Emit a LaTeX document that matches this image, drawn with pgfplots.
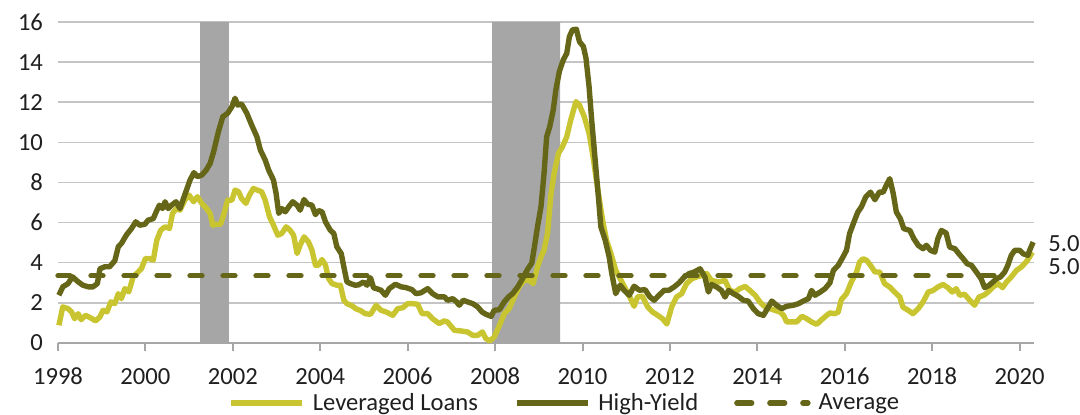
\documentclass[border=0pt]{standalone}
\usepackage{fontspec}
\setmainfont{Carlito}
\usepackage{pgfplots}
\pgfplotsset{compat=1.18}
\definecolor{llc}{HTML}{C9C530}
\definecolor{hyc}{HTML}{666619}
\definecolor{bandc}{HTML}{A6A6A6}
\definecolor{gridc}{HTML}{C4C4C4}
\definecolor{axc}{HTML}{A6A6A6}
\definecolor{txt}{HTML}{1F1F1F}
\newcommand\chartfont{\fontsize{12.3pt}{14pt}\selectfont}
\pgfplotsset{avglegend/.style={legend image code/.code={\draw[##1] (1.4pt,0pt) -- (24pt,0pt); \path (0pt,0pt) -- (35.5pt,0pt);}}}
\begin{document}
\begin{tikzpicture}
\useasboundingbox (-29pt,-36pt) rectangle (511pt,171.5pt);
\begin{axis}[
  at={(0,0)}, anchor=south west,
  scale only axis, width=488pt, height=160.5pt,
  clip=false,
  xmin=1998, xmax=2020.33, ymin=0, ymax=16,
  xtick={1998,2000,...,2020}, ytick={0,2,...,16},
  axis x line*=bottom, axis y line*=left,
  x axis line style={draw=axc, line width=1pt, -},
  y axis line style={draw=none},
  ytick style={draw=none},
  xtick style={draw=axc, line width=1pt},
  tick align=outside, major tick length=4pt,
  ymajorgrids, grid style={draw=gridc, line width=0.75pt},
  ticklabel style={font=\chartfont, text=txt},
  xticklabel style={yshift=-5pt},
  /pgf/number format/1000 sep={}, /pgf/number format/assume math mode=true,
  legend style={at={(0.168,-0.187)}, anchor=west, draw=none, fill=none,
    legend columns=-1, font=\chartfont, text=txt,
    /tikz/every odd column/.append style={column sep=2pt},
    /tikz/every even column/.append style={column sep=16pt}},
  legend image code/.code={\draw[#1] (0pt,0pt) -- (35.5pt,0pt);},
]
\addplot[fill=bandc, draw=none, forget plot] coordinates {(2001.25,0) (2001.25,16) (2001.91,16) (2001.91,0)} \closedcycle;
\addplot[fill=bandc, draw=none, forget plot] coordinates {(2007.93,0) (2007.93,16) (2009.49,16) (2009.49,0)} \closedcycle;

\addplot[llc, line width=2.7pt, line join=round] table {
1998.02 0.88
1998.11 1.8
1998.23 1.71
1998.31 1.55
1998.38 1.21
1998.46 1.46
1998.53 1.16
1998.63 1.38
1998.74 1.26
1998.86 1.1
1998.96 1.3
1999.03 1.63
1999.12 1.55
1999.21 2.05
1999.3 1.96
1999.38 2.46
1999.45 2.21
1999.53 2.71
1999.62 2.55
1999.72 3.3
1999.81 3.49
1999.91 3.71
2000.0 4.21
2000.09 4.21
2000.18 4.13
2000.26 5.12
2000.35 5.62
2000.45 5.79
2000.55 5.71
2000.62 6.46
2000.71 6.7
2000.79 6.62
2000.9 7.12
2001.0 7.37
2001.1 7.04
2001.19 7.29
2001.29 6.96
2001.4 6.7
2001.48 6.46
2001.54 5.87
2001.62 5.92
2001.72 5.92
2001.8 6.46
2001.88 7.12
2001.98 7.12
2002.05 7.62
2002.13 7.54
2002.2 7.2
2002.3 6.96
2002.38 7.37
2002.47 7.7
2002.56 7.62
2002.66 7.54
2002.74 7.12
2002.84 6.29
2002.93 5.87
2003.03 5.37
2003.12 5.46
2003.22 5.79
2003.31 5.62
2003.39 5.37
2003.47 4.46
2003.54 4.88
2003.63 5.29
2003.73 5.04
2003.81 4.63
2003.89 3.88
2003.96 3.88
2004.04 4.16
2004.12 3.88
2004.19 3.21
2004.27 2.96
2004.38 2.88
2004.46 2.88
2004.54 2.13
2004.61 1.96
2004.73 1.85
2004.82 1.7
2004.92 1.62
2005.03 1.46
2005.15 1.43
2005.28 1.88
2005.39 1.63
2005.5 1.55
2005.66 1.38
2005.77 1.71
2005.89 1.76
2006.0 1.96
2006.11 1.96
2006.23 1.93
2006.33 1.46
2006.46 1.46
2006.57 1.21
2006.72 0.97
2006.84 1.1
2006.91 1.05
2007.07 0.63
2007.22 0.6
2007.37 0.55
2007.49 0.38
2007.6 0.38
2007.71 0.55
2007.79 0.22
2007.88 0.1
2007.98 0.3
2008.1 0.88
2008.21 1.46
2008.32 1.71
2008.44 2.3
2008.55 2.8
2008.67 3.13
2008.78 3.13
2008.87 2.96
2008.97 3.79
2009.05 4.29
2009.12 4.63
2009.2 5.46
2009.28 7.45
2009.35 8.45
2009.45 9.45
2009.54 9.78
2009.64 10.28
2009.73 11.11
2009.85 12.03
2009.93 11.86
2010.04 11.28
2010.15 10.45
2010.23 9.45
2010.34 7.79
2010.46 6.12
2010.55 5.12
2010.65 4.46
2010.76 3.63
2010.88 3.13
2011.0 2.63
2011.08 2.3
2011.18 1.83
2011.26 2.3
2011.37 2.33
2011.49 1.8
2011.6 1.55
2011.72 1.38
2011.83 1.21
2011.93 0.95
2012.04 1.8
2012.15 2.29
2012.27 2.46
2012.38 2.96
2012.5 3.2
2012.61 3.29
2012.73 3.37
2012.84 3.46
2012.95 3.12
2013.11 3.04
2013.26 3.12
2013.37 2.62
2013.49 2.54
2013.6 2.71
2013.72 2.82
2013.83 2.62
2013.95 2.38
2014.06 2.04
2014.18 1.79
2014.29 1.71
2014.4 1.63
2014.52 1.54
2014.6 1.38
2014.67 1.05
2014.79 1.05
2014.9 1.05
2015.02 1.33
2015.13 1.21
2015.24 1.05
2015.36 0.93
2015.47 1.16
2015.59 1.38
2015.66 1.5
2015.77 1.46
2015.85 1.54
2015.92 2.16
2016.04 2.46
2016.15 3.04
2016.27 3.54
2016.34 4.04
2016.42 4.2
2016.5 4.12
2016.59 3.87
2016.69 3.54
2016.8 3.54
2016.91 2.96
2017.03 2.79
2017.14 2.54
2017.26 2.29
2017.33 1.79
2017.45 1.63
2017.56 1.46
2017.68 1.71
2017.79 2.04
2017.91 2.54
2018.02 2.62
2018.13 2.79
2018.25 2.92
2018.36 2.76
2018.46 2.54
2018.55 2.71
2018.63 2.38
2018.74 2.43
2018.86 2.13
2018.97 1.88
2019.07 2.29
2019.18 2.38
2019.28 2.54
2019.39 2.79
2019.51 2.96
2019.61 2.76
2019.7 3.04
2019.81 3.29
2019.93 3.62
2020.04 3.79
2020.15 4.04
2020.23 4.29
2020.29 4.53
};
\addlegendentry{Leveraged Loans}

\addplot[hyc, line width=2.7pt, line join=round] table {
1998.02 2.38
1998.11 2.8
1998.23 2.96
1998.33 3.3
1998.46 3.05
1998.57 2.88
1998.69 2.8
1998.8 2.8
1998.9 2.96
1998.96 3.7
1999.07 3.8
1999.18 3.8
1999.3 4.1
1999.38 4.8
1999.45 4.96
1999.57 5.4
1999.68 5.7
1999.78 6.04
1999.87 5.87
1999.99 5.92
2000.06 6.12
2000.18 6.2
2000.26 6.6
2000.32 6.87
2000.39 6.7
2000.45 7.04
2000.52 6.7
2000.6 6.87
2000.7 7.04
2000.79 6.7
2000.87 7.2
2000.94 7.62
2001.02 8.12
2001.11 8.49
2001.19 8.29
2001.29 8.37
2001.39 8.62
2001.48 8.95
2001.56 9.53
2001.67 10.53
2001.77 11.28
2001.88 11.45
2001.98 11.78
2002.05 12.2
2002.11 11.86
2002.2 11.91
2002.32 11.45
2002.43 10.87
2002.55 10.28
2002.63 9.62
2002.74 9.12
2002.82 8.62
2002.93 8.12
2002.99 7.45
2003.05 6.46
2003.12 6.7
2003.2 6.54
2003.28 6.79
2003.37 7.04
2003.47 6.87
2003.54 6.62
2003.63 7.15
2003.71 6.92
2003.81 6.87
2003.89 6.4
2003.96 6.6
2004.04 6.54
2004.12 6.04
2004.23 5.62
2004.31 5.46
2004.38 4.79
2004.48 4.46
2004.54 3.79
2004.61 3.05
2004.69 2.96
2004.8 2.88
2004.88 2.9
2004.99 3.04
2005.07 2.88
2005.15 3.25
2005.22 2.75
2005.3 2.7
2005.39 2.63
2005.49 2.38
2005.58 2.71
2005.72 2.93
2005.85 2.8
2005.96 2.76
2006.1 2.66
2006.19 2.46
2006.3 2.5
2006.46 2.71
2006.57 2.46
2006.69 2.3
2006.84 2.3
2006.91 2.13
2007.03 2.21
2007.12 2.05
2007.18 1.88
2007.27 2.13
2007.37 2.05
2007.49 1.96
2007.6 1.8
2007.7 1.55
2007.79 1.43
2007.91 1.33
2007.98 1.63
2008.1 1.66
2008.21 2.05
2008.31 2.3
2008.4 2.46
2008.52 2.8
2008.63 3.21
2008.74 3.66
2008.84 3.99
2008.9 4.79
2008.97 5.79
2009.05 6.79
2009.12 8.45
2009.18 10.28
2009.25 10.78
2009.33 11.61
2009.39 12.61
2009.47 13.53
2009.56 14.11
2009.64 14.44
2009.7 15.27
2009.77 15.61
2009.86 15.64
2009.93 15.02
2010.02 14.78
2010.08 14.19
2010.15 12.78
2010.21 11.11
2010.29 9.12
2010.37 7.12
2010.42 5.79
2010.52 5.12
2010.61 4.29
2010.67 3.46
2010.76 2.46
2010.86 2.88
2010.95 2.63
2011.07 2.38
2011.18 2.83
2011.3 2.63
2011.43 2.66
2011.54 2.3
2011.64 2.13
2011.75 2.38
2011.87 2.63
2011.98 2.63
2012.1 2.8
2012.21 3.0
2012.33 3.29
2012.44 3.46
2012.56 3.54
2012.69 3.7
2012.8 3.29
2012.88 2.54
2012.95 2.92
2013.07 2.79
2013.18 2.62
2013.26 2.29
2013.34 2.62
2013.45 2.46
2013.56 2.33
2013.68 2.13
2013.79 2.09
2013.91 1.71
2014.02 1.46
2014.14 1.38
2014.23 1.71
2014.33 2.09
2014.44 1.88
2014.56 1.71
2014.67 1.83
2014.82 1.88
2014.94 1.96
2015.05 2.09
2015.17 2.21
2015.24 2.62
2015.32 2.38
2015.44 2.54
2015.55 2.71
2015.66 3.0
2015.74 3.62
2015.85 3.87
2015.96 4.29
2016.04 4.62
2016.11 5.45
2016.21 6.03
2016.3 6.53
2016.38 6.78
2016.48 7.28
2016.59 7.52
2016.69 7.14
2016.79 7.52
2016.88 7.52
2016.95 7.86
2017.03 8.19
2017.11 7.44
2017.18 6.53
2017.27 6.2
2017.35 5.7
2017.49 5.61
2017.58 5.2
2017.68 4.87
2017.79 4.7
2017.87 4.87
2017.96 4.62
2018.06 4.53
2018.13 5.2
2018.21 5.61
2018.32 5.48
2018.4 4.78
2018.52 4.7
2018.61 4.45
2018.71 4.2
2018.8 3.95
2018.9 3.87
2019.01 3.54
2019.12 3.2
2019.2 2.76
2019.3 2.87
2019.39 3.04
2019.47 3.2
2019.56 3.29
2019.66 3.54
2019.73 3.87
2019.81 4.37
2019.89 4.62
2020.0 4.62
2020.08 4.45
2020.19 4.37
2020.23 4.62
2020.31 5.03
};
\addlegendentry{High-Yield}

\addplot[hyc, line width=2.7pt, line cap=round, dash pattern=on 6pt off 10.5pt, avglegend]
  coordinates {(1998,3.35) (2019.88,3.35)};
\addlegendentry{Average}

\node[anchor=west, font=\chartfont, text=txt, inner sep=0pt, xshift=7pt] at (axis cs:2020.33,4.93) {5.0};
\node[anchor=west, font=\chartfont, text=txt, inner sep=0pt, xshift=7pt] at (axis cs:2020.33,3.8) {5.0};
\end{axis}
\end{tikzpicture}
\end{document}
